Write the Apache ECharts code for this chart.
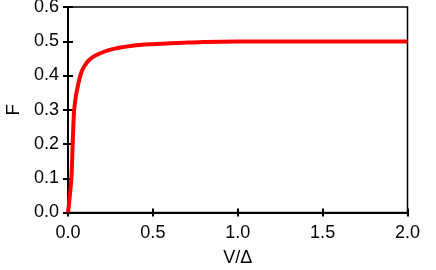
<!DOCTYPE html>
<html>
<head>
<meta charset="utf-8">
<script src="https://cdn.jsdelivr.net/npm/echarts@6/dist/echarts.min.js"></script>
<style>html,body{margin:0;padding:0;background:#fff}#c{width:436px;height:270px}</style>
</head>
<body>
<div id="c"></div>
<script>
var vValues = [0, 0.01, 0.02, 0.027, 0.035, 0.045, 0.055, 0.065, 0.08, 0.1, 0.12, 0.15, 0.19, 0.24, 0.3, 0.38, 0.48, 0.6, 0.7, 0.8, 1.0, 1.3, 1.6, 2.0];
var fValues = [0, 0.045, 0.1, 0.19, 0.29, 0.335, 0.362, 0.385, 0.411, 0.43, 0.443, 0.455, 0.465, 0.474, 0.481, 0.487, 0.491, 0.494, 0.496, 0.498, 0.499, 0.499, 0.499, 0.499];
var xTicks = [0, 0.5, 1.0, 1.5, 2.0];
var yTicks = [0, 0.1, 0.2, 0.3, 0.4, 0.5, 0.6];

var data = vValues.map(function (v, i) { return [v, fValues[i]]; });
var font = 'Liberation Sans, Arial, sans-serif';
var fmt = function (v) { return v.toFixed(1); };

var chart = echarts.init(document.getElementById('c'), null, {renderer: 'canvas'});
var baseX = {
  type: 'value', min: xTicks[0], max: xTicks[xTicks.length - 1], interval: 0.5,
  position: 'bottom', splitLine: {show: false}
};
var baseY = {
  type: 'value', min: yTicks[0], max: yTicks[yTicks.length - 1], interval: 0.1,
  position: 'left', splitLine: {show: false}
};
chart.setOption({
  animation: false,
  grid: {left: 68, right: 28.5, top: 7, bottom: 57.5, containLabel: false, outerBoundsMode: 'none',
    show: true, borderColor: '#000', borderWidth: 1.5, backgroundColor: 'transparent'},
  xAxis: [
    Object.assign({}, baseX, {
      name: 'V/Δ', nameLocation: 'middle', nameGap: 37,
      nameTextStyle: {color: '#000', fontFamily: font, fontSize: 18},
      axisLine: {show: true, onZero: false, lineStyle: {color: '#000', width: 2}},
      axisTick: {show: true, inside: false, length: 4, lineStyle: {color: '#000', width: 2}},
      axisLabel: {color: '#000', fontFamily: font, fontSize: 18, margin: 12, formatter: fmt}
    }),
    Object.assign({}, baseX, {
      axisLine: {show: false, onZero: false},
      axisTick: {show: true, inside: true, length: 4, lineStyle: {color: '#000', width: 2}},
      axisLabel: {show: false}
    })
  ],
  yAxis: [
    Object.assign({}, baseY, {
      name: 'F', nameLocation: 'middle', nameGap: 43,
      nameTextStyle: {color: '#000', fontFamily: font, fontSize: 19},
      axisLine: {show: true, onZero: false, lineStyle: {color: '#000', width: 2}},
      axisTick: {show: true, inside: false, length: 5, lineStyle: {color: '#000', width: 2}},
      axisLabel: {color: '#000', fontFamily: font, fontSize: 18, margin: 9, formatter: fmt}
    }),
    Object.assign({}, baseY, {
      axisLine: {show: false, onZero: false},
      axisTick: {show: true, inside: true, length: 5, lineStyle: {color: '#000', width: 2}},
      axisLabel: {show: false}
    })
  ],
  series: [{
    type: 'line', data: data, xAxisIndex: 0, yAxisIndex: 0,
    showSymbol: false, smooth: 0.3,
    lineStyle: {color: '#ff0000', width: 4}
  }]
});
</script>
</body>
</html>
